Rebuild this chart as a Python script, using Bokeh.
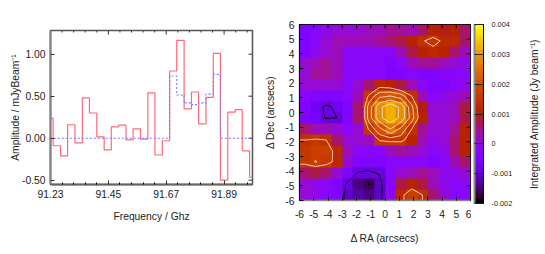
import math
import numpy as np
from bokeh.embed import file_html
from bokeh.layouts import column, row
from bokeh.models import FixedTicker, LinearAxis, LinearColorMapper, Range1d
from bokeh.plotting import figure
from bokeh.resources import INLINE

freq_edges = [91.212, 91.240, 91.268, 91.295, 91.323, 91.351, 91.378, 91.406, 91.434, 91.461,
              91.489, 91.517, 91.544, 91.572, 91.600, 91.627, 91.655, 91.683, 91.710, 91.738,
              91.766, 91.793, 91.821, 91.849, 91.876, 91.904, 91.932, 91.959, 91.987, 92.015]
amplitude = [0.24, -0.09, -0.21, 0.16, -0.055, 0.48, 0.30, 0.015, -0.14, 0.135,
             0.155, -0.02, 0.11, -0.01, 0.54, -0.20, -0.03, 0.80, 1.165, 0.35,
             0.55, 0.17, 0.485, 1.01, -0.50, 0.31, 0.34, -0.15, -0.465]
model = [0, 0, 0, 0, 0, 0, 0, 0, 0, 0,
         0, 0, 0, 0, 0, 0, 0, 0.74, 0.515, 0.42,
         0.40, 0.42, 0.525, 0.76, 0, 0, 0, 0, 0]
freq_ticks = [91.23, 91.45, 91.67, 91.89]
freq_minor = [91.274, 91.318, 91.362, 91.406, 91.494, 91.538, 91.582, 91.626,
              91.714, 91.758, 91.802, 91.846, 91.934, 91.978]
amp_ticks = [-0.5, 0.0, 0.5, 1.0]
amp_labels = ["-0.50", "0.00", "0.50", "1.00"]
pos_ticks = [-6, -5, -4, -3, -2, -1, 0, 1, 2, 3, 4, 5, 6]
pos_labels = ["-6", "-5", "-4", "-3", "-2", "-1", "0", "1", "2", "3", "4", "5", "6"]
cbar_ticks = [-0.002, -0.001, 0, 0.001, 0.002, 0.003, 0.004]
cbar_labels = ["-0.002", "-0.001", "0", "0.001", "0.002", "0.003", "0.004"]
contour_levels = [-0.0015, -0.0009, 0.0014, 0.0018, 0.0022, 0.0026, 0.0030]
contour_colors = ["#000000", "#000000", "#f8d8c8", "#f8d8c8", "#f8d8c8", "#f8d8c8", "#f8d8c8"]

# top row first
integrated_amp = [
    [-.0005, -.0003, -.0001, 0, .0001, .0001, .0002, .0003, .0004, .0004, .0003, .0005, .0010, .0009, .0010, .0006],
    [-.0005, -.0003, .0001, .0002, .0002, .0002, .0003, .0004, .0005, .0007, .0010, .00135, .0016, .0013, .0012, .0006],
    [-.0004, -.0001, .0001, .0002, -.0002, -.0003, -.0002, -.0002, -.0003, .0002, .0008, .0011, .0012, .0010, .0006, .0002],
    [0, .0003, .0004, .0002, -.0003, -.0003, -.0003, -.0003, -.0004, -.0003, .0002, .0004, .0004, .0003, 0, -.0001],
    [.0001, .0004, .0004, .0002, -.0002, -.0003, -.0003, -.0003, -.0004, -.0004, -.0003, -.0004, -.0004, -.0003, -.0003, -.0002],
    [0, .0001, .0001, 0, -.0002, .0001, .0006, .0012, .0011, .0008, .0003, -.0003, -.0004, -.0004, -.0002, -.0001],
    [-.0003, -.0004, -.0005, -.0004, -.0002, .0003, .0015, .0021, .0022, .0020, .0014, .0003, -.0002, -.0001, 0, .0003],
    [-.0004, -.0007, -.0010, -.0008, -.0004, .0005, .0020, .0029, .0033, .0029, .0019, .0009, 0, 0, .0003, .0007],
    [-.0004, -.0006, -.00095, -.0009, -.0004, .0005, .0020, .0029, .0033, .0029, .0020, .0010, 0, 0, .0002, .0008],
    [.0006, .0003, .0002, 0, -.0002, 0, .0015, .0021, .0026, .0021, .0014, .0004, 0, .0001, .0004, .0011],
    [.0014, .0015, .0014, .0005, 0, 0, .0003, .0015, .0016, .0016, .0010, .0002, -.0001, 0, .0005, .0011],
    [.0016, .0017, .0017, .0012, .0002, -.0002, -.0003, -.0002, .0003, .0004, .0003, 0, -.0002, -.0001, .0005, .0010],
    [.0016, .00182, .00165, .0012, 0, -.0004, -.0005, -.0004, -.0002, -.0003, -.0002, -.0003, -.0004, -.0002, .0003, .0006],
    [.0006, .0008, .0006, 0, -.0005, -.00095, -.0010, -.00085, -.0003, .0001, .0003, .0004, .0002, -.0001, -.0001, .0001],
    [0, -.0001, -.0003, -.0004, -.0010, -.0014, -.00151, -.0011, -.0002, .0007, .0011, .0008, .0003, -.0001, -.0002, -.0002],
    [.0001, -.0001, -.0002, -.0005, -.0011, -.0012, -.0014, -.0011, -.0001, .00125, .00178, .0014, .0006, 0, -.0002, -.0003],
]

FONT = "Liberation Sans"
TXT = "#222222"
VMIN, VMAX = -0.002, 0.004


def palette(n):
    out = []
    for i in range(n):
        t = i / (n - 1)
        r = math.sqrt(t)
        g = t ** 3
        b = max(0.0, math.sin(2 * math.pi * t))
        out.append("#%02x%02x%02x" % (round(r * 255), round(g * 255), round(b * 255)))
    return out


PAL = palette(36)
mapper = LinearColorMapper(palette=PAL, low=VMIN, high=VMAX)


def top_ticks(fig, ticks, ymax, frac_len, color, width=1.0):
    fig.segment(x0=ticks, y0=[ymax] * len(ticks), x1=ticks,
                y1=[ymax - frac_len] * len(ticks), line_color=color, line_width=width)


def right_ticks(fig, ticks, xmax, frac_len, color, width=1.0):
    fig.segment(x0=[xmax] * len(ticks), y0=ticks, x1=[xmax - frac_len] * len(ticks),
                y1=ticks, line_color=color, line_width=width)


def style_axis(ax, label, standoff, size="10.3px"):
    ax.axis_label = label
    ax.axis_label_text_font = FONT
    ax.axis_label_text_font_size = size
    ax.axis_label_text_font_style = "normal"
    ax.axis_label_text_color = TXT
    ax.axis_label_standoff = standoff
    ax.major_label_text_font = FONT
    ax.major_label_text_font_size = size
    ax.major_label_text_color = TXT


# ---------- spectrum ----------
X0, X1, Y0, Y1 = 91.23, 91.998, -0.551, 1.282
p1 = figure(width=262, height=246, output_backend="svg", toolbar_location=None,
            x_range=Range1d(X0, X1), y_range=Range1d(Y0, Y1),
            min_border_left=50, min_border_right=10, min_border_top=30, min_border_bottom=62)
p1.grid.visible = False
p1.outline_line_color = "#555555"
p1.outline_line_width = 1.5

p1.xaxis.ticker = FixedTicker(ticks=freq_ticks, minor_ticks=freq_minor)
p1.yaxis.ticker = FixedTicker(ticks=amp_ticks)
p1.xaxis.major_label_overrides = {v: "%.2f" % v for v in freq_ticks}
p1.yaxis.major_label_overrides = dict(zip(amp_ticks, amp_labels))
for ax, label, off in ((p1.xaxis[0], "Frequency / Ghz", 10), (p1.yaxis[0], "Amplitude / mJyBeam⁻¹", -2)):
    style_axis(ax, label, off)
    ax.major_tick_in = 4
    ax.major_tick_out = 0
    ax.major_tick_line_color = "#333333"
    ax.major_label_standoff = 5
p1.xaxis.minor_tick_in = 2
p1.xaxis.minor_tick_out = 0
p1.yaxis.minor_tick_line_color = None
p1.xaxis.axis_line_color = "#666666"
p1.xaxis.axis_line_width = 2
p1.yaxis.axis_line_color = "#808080"
p1.yaxis.axis_line_width = 2
top_ticks(p1, freq_ticks, Y1, 4 / 154 * (Y1 - Y0), "#333333")
top_ticks(p1, freq_minor, Y1, 2 / 154 * (Y1 - Y0), "#333333")
right_ticks(p1, amp_ticks, X1, 4 / 202 * (X1 - X0), "#333333")

p1.step(freq_edges, amplitude + [amplitude[-1]], mode="after", line_color="#ff6a78", line_width=1.2)
p1.step(freq_edges, model + [model[-1]], mode="after", line_color="#7878ff", line_width=1.1, line_dash="2 2")

# ---------- map ----------
p2 = figure(width=209, height=246, output_backend="svg", toolbar_location=None,
            x_range=Range1d(-6, 6), y_range=Range1d(-6, 6),
            min_border_left=35, min_border_right=1, min_border_top=24, min_border_bottom=43)
p2.grid.visible = False
p2.outline_line_color = "#000000"
p2.outline_line_width = 1.2

z = np.array(integrated_amp)[::-1]
p2.image(image=[z], x=-6, y=-6, dw=12, dh=12, color_mapper=mapper)

n = z.shape[0]
cent = -6 + 12 * (np.arange(n) + 0.5) / n
gx = np.concatenate(([-6.0], cent, [6.0]))
zp = np.pad(z, 1, mode="edge")
p2.contour(gx, gx, zp, levels=contour_levels, fill_color=None,
           line_color=contour_colors, line_width=0.9)

p2.xaxis.ticker = FixedTicker(ticks=pos_ticks)
p2.yaxis.ticker = FixedTicker(ticks=pos_ticks)
for ax, label, off in ((p2.xaxis[0], "Δ RA (arcsecs)", 12), (p2.yaxis[0], "Δ Dec (arcsecs)", 6)):
    style_axis(ax, label, off)
    ax.major_label_overrides = dict(zip(pos_ticks, pos_labels))
    ax.major_tick_in = 4
    ax.major_tick_out = 0
    ax.minor_tick_line_color = None
    ax.major_tick_line_color = "#000000"
p2.xaxis.major_label_standoff = 9
p2.yaxis.major_label_standoff = 5
p2.xaxis.axis_line_color = "#888888"
p2.xaxis.axis_line_width = 1.5
p2.yaxis.axis_line_color = "#000000"
top_ticks(p2, pos_ticks, 6, 4 / 179 * 12, "#000000")
right_ticks(p2, pos_ticks, 6, 4 / 173 * 12, "#000000")

# ---------- colour bar ----------
p3 = figure(width=54, height=246, output_backend="svg", toolbar_location=None,
            x_range=Range1d(0, 1), y_range=Range1d(VMIN, VMAX),
            min_border_left=3, min_border_right=42, min_border_top=24, min_border_bottom=43,
            y_axis_location="right")
p3.grid.visible = False
p3.xaxis.visible = False
p3.outline_line_color = "#000000"
p3.outline_line_width = 1.0
bar = np.linspace(VMIN, VMAX, len(PAL)).reshape(-1, 1)
p3.image(image=[bar], x=0, y=VMIN, dw=1, dh=VMAX - VMIN, color_mapper=mapper)
ya = p3.yaxis[0]
ya.ticker = FixedTicker(ticks=cbar_ticks)
ya.major_label_overrides = dict(zip(cbar_ticks, cbar_labels))
ya.major_label_text_font = FONT
ya.major_label_text_color = TXT
ya.major_label_text_font_size = "7.3px"
ya.major_tick_in = 9
ya.major_tick_out = 0
ya.major_label_standoff = 8
ya.minor_tick_line_color = None
ya.major_tick_line_color = "#222222"
ya.axis_line_color = "#000000"
left = LinearAxis(ticker=FixedTicker(ticks=[]), axis_line_color="#888888", axis_line_width=2,
                  major_tick_line_color=None, minor_tick_line_color=None)
p3.add_layout(left, "left")

# ---------- colour bar title, on an empty strip of its own ----------
p4 = figure(width=18, height=246, output_backend="svg", toolbar_location=None,
            x_range=Range1d(0, 1), y_range=Range1d(VMIN, VMAX),
            min_border_left=12, min_border_right=2, min_border_top=24, min_border_bottom=43)
p4.grid.visible = False
p4.xaxis.visible = False
p4.outline_line_color = None
ta = p4.yaxis[0]
ta.ticker = FixedTicker(ticks=[])
ta.axis_line_color = None
ta.major_tick_line_color = None
ta.minor_tick_line_color = None
style_axis(ta, "Integrated Amplitude (Jy beam⁻¹)", 0)

page = row(column(p1), column(p2), column(p3), column(p4), spacing=0)
open("out.html", "w").write(file_html(page, INLINE))
